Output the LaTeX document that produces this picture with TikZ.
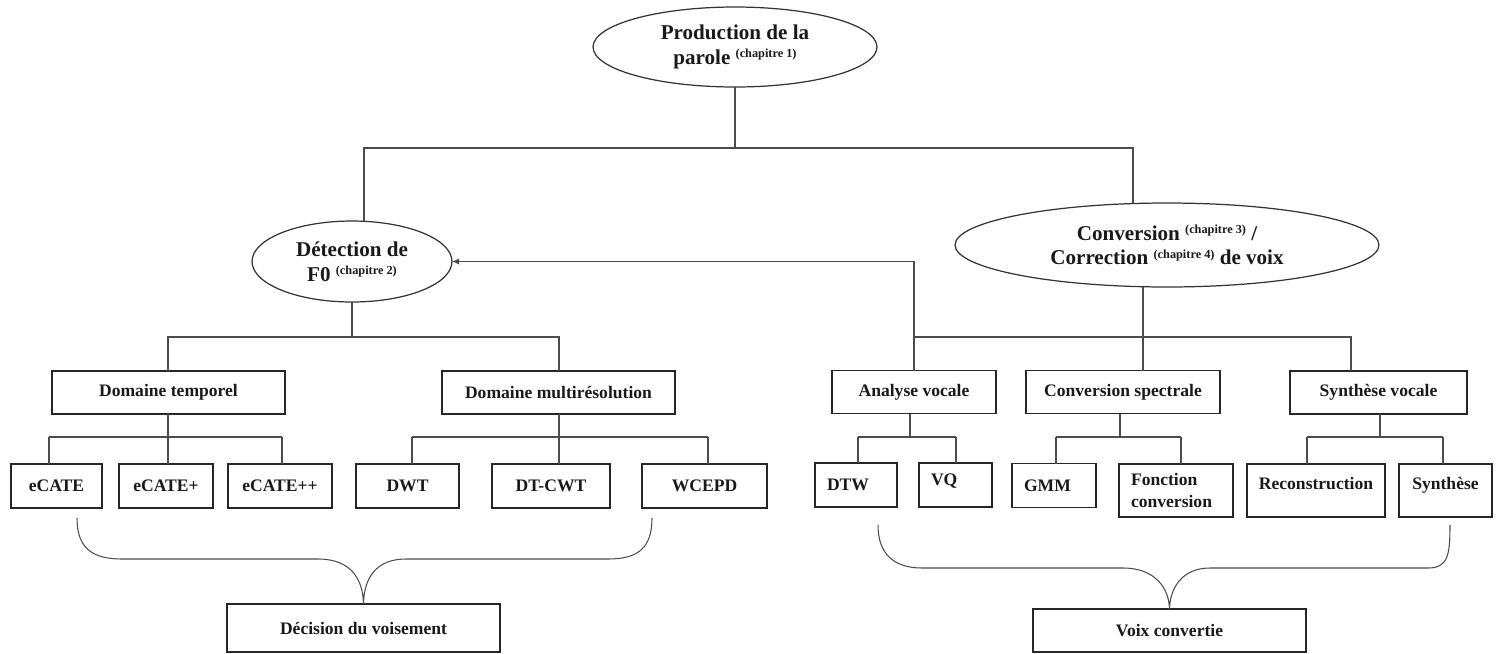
\documentclass[tikz,border=0pt]{standalone}
\usepackage{fontspec}
\setmainfont{Liberation Serif}
\usetikzlibrary{arrows.meta, shapes.geometric}
\newcommand{\chapnote}[1]{\raisebox{0.7ex}{\fontsize{7}{8}\selectfont(chapitre #1)}}
\begin{document}
\begin{tikzpicture}[x=0.02cm,y=-0.02cm,
    every node/.style={outer sep=0pt, inner sep=0pt, text=black!90},
    oval/.style={ellipse, draw=black!80, line width=0.7pt, align=center, font=\fontsize{12}{14}\selectfont\bfseries},
    catbox/.style={rectangle, draw=black!85, line width=0.7pt, minimum height=0.86cm, font=\fontsize{10}{12}\selectfont\bfseries},
    leafbox/.style={rectangle, draw=black!85, line width=0.7pt, minimum height=0.88cm, align=center, font=\fontsize{10}{12}\selectfont\bfseries},
    leftleaf/.style={leafbox, align=left, text width=#1},
    tallbox/.style={minimum height=1.06cm},
    wire/.style={draw=black!70, line width=0.6pt},
  ]
  \useasboundingbox (0,0) rectangle (1498,653);
  % create the nodes
  \node[oval, minimum width=5.68cm, minimum height=1.6cm] (prod) at (735,47) {Production de la\\parole \chapnote{1}};
  \node[oval, minimum width=4.0cm, minimum height=1.62cm] (detect) at (352,261.5) {Détection de\\F0 \chapnote{2}};
  \node[oval, minimum width=8.48cm, minimum height=1.68cm] (conv) at (1167,245) {Conversion \chapnote{3} /\\Correction \chapnote{4} de voix};
  % second level
  \node[catbox, minimum width=4.66cm] (temp) at (168.5,392.5) {Domaine temporel};
  \node[catbox, minimum width=4.66cm] (multi) at (558.5,392.5) {Domaine multirésolution};
  \node[catbox, minimum width=3.28cm] (analyse) at (914,392) {Analyse vocale};
  \node[catbox, minimum width=3.88cm] (spectr) at (1123,392) {Conversion spectrale};
  \node[catbox, minimum width=3.54cm] (synth) at (1378.5,392.5) {Synthèse vocale};
  % leaves
  \node[leafbox, minimum width=1.82cm] (e1) at (56.5,486) {eCATE};
  \node[leafbox, minimum width=1.88cm] (e2) at (166,486) {eCATE+};
  \node[leafbox, minimum width=2.08cm] (e3) at (280,486) {eCATE++};
  \node[leafbox, minimum width=2.06cm] (dwt) at (407.5,486) {DWT};
  \node[leafbox, minimum width=2.36cm] (dtcwt) at (551,486) {DT-CWT};
  \node[leafbox, minimum width=2.5cm] (wcepd) at (704.5,486) {WCEPD};
  \node[leftleaf=1.16cm, minimum width=1.64cm] (dtw) at (856,485) {DTW};
  \node[leftleaf=0.98cm, minimum width=1.46cm] (vq) at (955.5,485) {VQ\\[-9pt]\strut};
  \node[leftleaf=1.2cm, minimum width=1.68cm] (gmm) at (1054,485.5) {GMM};
  \node[leftleaf=1.8cm, tallbox, minimum width=2.28cm] (fonct) at (1176,490.5) {Fonction\\conversion};
  \node[leafbox, tallbox, minimum width=2.76cm] (recon) at (1316,490.5) {Reconstruction\\[-7pt]\strut};
  \node[leafbox, tallbox, minimum width=1.86cm] (synthl) at (1445.5,490.5) {Synthèse\\[-7pt]\strut};
  % results
  \node[catbox, minimum width=5.46cm, minimum height=0.96cm] (decis) at (363.5,628) {Décision du voisement};
  \node[catbox, minimum width=5.46cm] (voix) at (1169.5,630.5) {Voix convertie};

  % top level links
  \coordinate (pL) at (364,148);
  \coordinate (pR) at (1133,148);
  \draw[wire] (prod.south) -- (prod.south |- pL);
  \draw[wire] (pL |- detect.north) -- (pL) -- (pR) -- (pR |- conv.north);
  % detection branch
  \coordinate (dL) at (168,337);
  \coordinate (dR) at (559,337);
  \draw[wire] (detect.south) -- (detect.south |- dL);
  \draw[wire] (dL |- temp.north) -- (dL) -- (dR) -- (dR |- multi.north);
  % conversion branch
  \coordinate (cM) at (1143,337);
  \coordinate (cE) at (1351,337);
  \draw[wire] (cM |- conv.south) -- (cM |- spectr.north);
  \draw[wire] (analyse.north |- cM) -- (cE) -- (cE |- synth.north);
  \draw[wire, -{Latex[length=4pt,width=3.5pt]}] (analyse.north) |- (detect.east);
  % leaf links
  \foreach \p/\a/\b/\c in {temp/49/282/168, multi/412/708/559, analyse/858/956/910, spectr/1056/1181/1120, synth/1307/1443/1380}
    \draw[wire] (\c,437 |- \p.south) -- (\c,437) (\a,437) -- (\b,437);
  \foreach \n/\x in {e1/49, e2/168, e3/282, dwt/412, dtcwt/559, wcepd/708, dtw/858, vq/956, gmm/1056, fonct/1181, recon/1307, synthl/1443}
    \draw[wire] (\x,437) -- (\x,437 |- \n.north);
  % braces
  \draw[wire] (77,518) .. controls (77,548) and (92,559) .. (122,559) -- (318,559)
    .. controls (350,559) and (363,578) .. (decis.north)
    .. controls (364,578) and (376,559) .. (406,559) -- (608,559)
    .. controls (638,559) and (652,548) .. (652,518);
  \draw[wire] (878,525) .. controls (878,555) and (895,568) .. (922,568) -- (1123,568)
    .. controls (1155,568) and (1169,588) .. (voix.north)
    .. controls (1170,588) and (1182,568) .. (1210,568) -- (1428,568)
    .. controls (1448,568) and (1450,555) .. (1450,525);
\end{tikzpicture}
\end{document}
